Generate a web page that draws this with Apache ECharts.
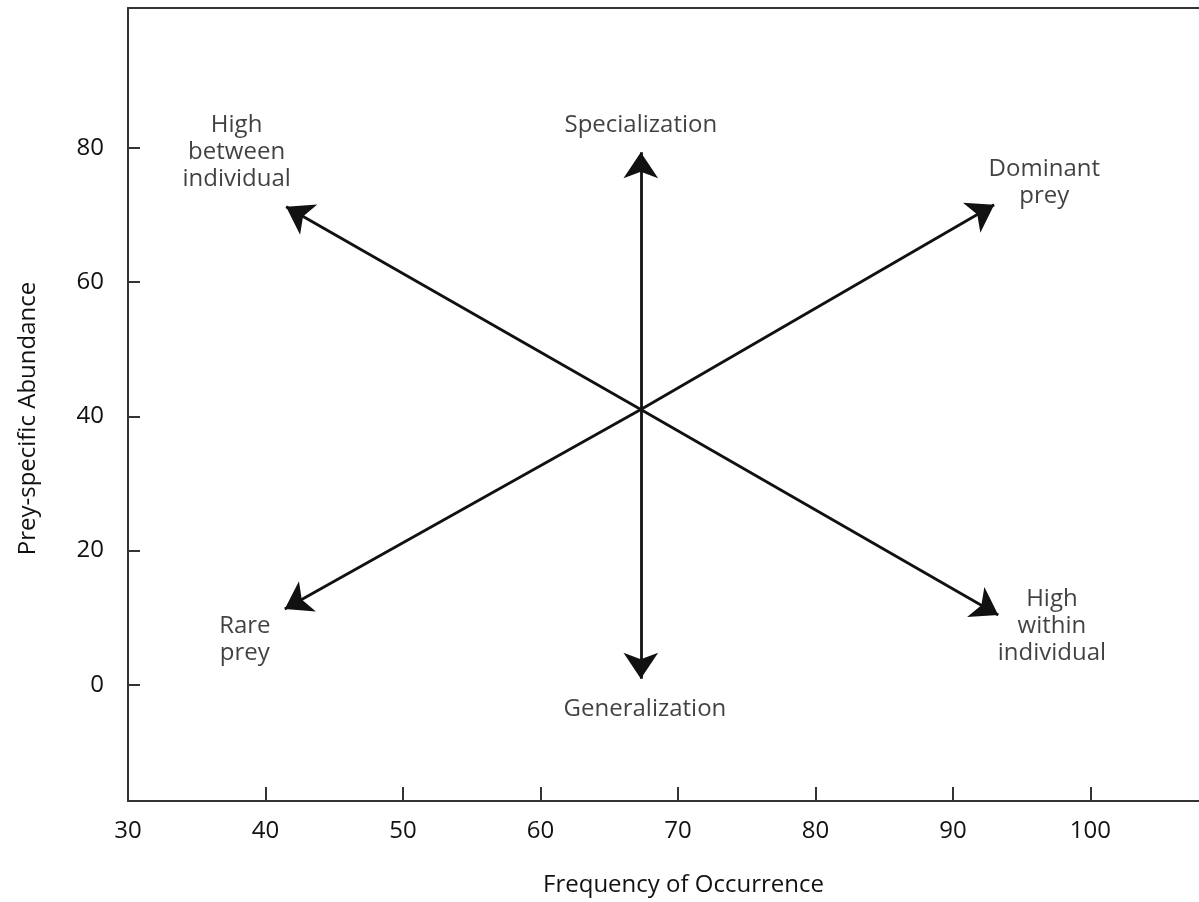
<!DOCTYPE html>
<html>
<head>
<meta charset="utf-8">
<script src="https://cdn.jsdelivr.net/npm/echarts@6/dist/echarts.min.js"></script>
<style>
html,body{margin:0;padding:0;background:#fff;overflow:hidden;}
#chart{width:1199px;height:902px;}
</style>
</head>
<body>
<div id="chart"></div>
<script>
// Data
var xTicks = [30, 40, 50, 60, 70, 80, 90, 100];
var yTicks = [0, 20, 40, 60, 80];
var center = [67.3, 41];
var arrowTipX = [41.5, 67.3, 93.0, 93.3, 67.3, 41.4];
var arrowTipY = [71.2, 79.3, 71.5, 10.4, 0.9, 11.3];
var labelTexts = ['High\nbetween\nindividual', 'Specialization', 'Dominant\nprey', 'High\nwithin\nindividual', 'Generalization', 'Rare\nprey'];
var labelX = [37.9, 67.3, 96.65, 97.2, 67.6, 38.5];
var labelY = [79.3, 83.4, 74.8, 8.8, -3.6, 6.7];

var FONT = '"Open Sans", "DejaVu Sans", sans-serif';
var TXT = '#111';
var FS = 24;

var arrowData = arrowTipX.map(function (x, i) {
  return { coords: [center, [x, arrowTipY[i]]] };
});
var labelData = labelTexts.map(function (t, i) {
  return { name: t, value: [labelX[i], labelY[i]] };
});

var chart = echarts.init(document.getElementById('chart'), null, { renderer: 'canvas', width: 1199, height: 902 });
chart.setOption({
  backgroundColor: '#fff',
  animation: false,
  grid: { left: 128, right: 0, top: 8, bottom: 99 },
  xAxis: [{
    type: 'value', min: 30, max: 107.9,
    name: 'Frequency of Occurrence', nameLocation: 'middle', nameGap: 72,
    nameTextStyle: { fontFamily: FONT, fontSize: FS, color: TXT, padding: [0, 0, 0, 40] },
    axisLine: { show: true, onZero: false, lineStyle: { color: '#333', width: 2 } },
    axisTick: { show: true, inside: true, length: 14, customValues: xTicks, lineStyle: { color: '#333', width: 2 } },
    axisLabel: { customValues: xTicks, margin: 18, fontFamily: FONT, fontSize: FS, color: TXT },
    splitLine: { show: false }
  }, {
    type: 'value', min: 30, max: 107.9, position: 'top',
    axisLine: { show: true, onZero: false, lineStyle: { color: '#333', width: 2 } },
    axisTick: { show: false }, axisLabel: { show: false }, splitLine: { show: false }
  }],
  yAxis: {
    type: 'value', min: -17.3, max: 100.8,
    name: 'Prey-specific Abundance', nameLocation: 'middle', nameGap: 88,
    nameTextStyle: { fontFamily: FONT, fontSize: FS, color: TXT, padding: [0, 28, 0, 0] },
    axisLine: { show: true, onZero: false, lineStyle: { color: '#333', width: 2 } },
    axisTick: { show: true, inside: true, length: 12, customValues: yTicks, lineStyle: { color: '#333', width: 2 } },
    axisLabel: { customValues: yTicks, margin: 24, fontFamily: FONT, fontSize: FS, color: TXT },
    splitLine: { show: false }
  },
  series: [{
    type: 'lines',
    coordinateSystem: 'cartesian2d',
    symbol: ['none', 'arrow'],
    symbolSize: [20, 26],
    lineStyle: { color: '#111', width: 2.8, opacity: 1, curveness: 0 },
    data: arrowData,
    silent: true
  }, {
    type: 'scatter',
    symbolSize: 0,
    data: labelData,
    label: {
      show: true, position: 'inside',
      formatter: function (p) { return p.name; },
      fontFamily: FONT, fontSize: FS, lineHeight: 27, color: TXT, align: 'center'
    },
    silent: true
  }]
});
</script>
</body>
</html>
